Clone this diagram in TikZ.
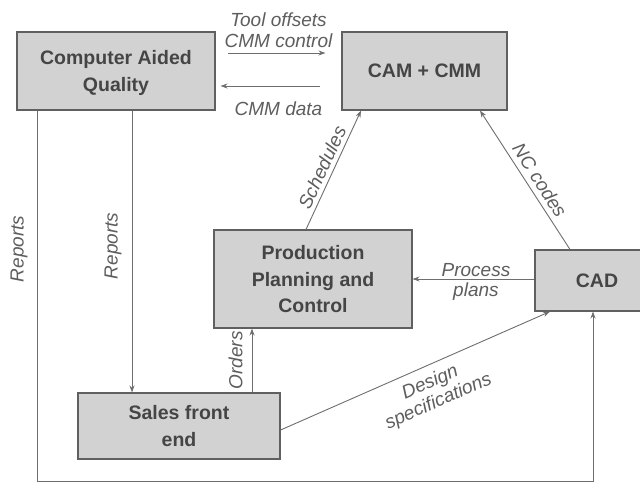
\documentclass[tikz,border=0pt]{standalone}
\usepackage{fontspec}
\setmainfont{Liberation Sans}
\usetikzlibrary{arrows.meta}
\definecolor{boxfill}{HTML}{D2D2D2}
\definecolor{boxline}{HTML}{606060}
\definecolor{boxtext}{HTML}{454545}
\definecolor{labtext}{HTML}{5E5E5E}
\definecolor{wire}{HTML}{6E6E6E}
\tikzset{
  blk/.style={draw=boxline, line width=1.1pt, fill=boxfill, text=boxtext,
    font=\fontsize{19.5}{26.5}\selectfont\bfseries, align=center, inner sep=0pt, text depth=0pt},
  lab/.style={text=labtext, font=\fontsize{19}{20.5}\selectfont\itshape, align=center, inner sep=1pt},
  wireline/.style={draw=wire, line width=0.9pt},
  arr/.style={wireline, -{Stealth[length=7pt,width=5pt]}}
}
\begin{document}
\begin{tikzpicture}[x=1pt,y=-1pt]
\clip (0,0) rectangle (640,483);
\fill[white] (0,0) rectangle (640,483);

\node[blk, minimum width=198pt, minimum height=78pt] (caq) at (116,71) {Computer Aided\\Quality};
\node[blk, minimum width=165pt, minimum height=78pt] (cam) at (424.5,71) {CAM + CMM};
\node[blk, minimum width=198pt, minimum height=98pt] (ppc) at (313,279) {Production\\Planning and\\Control};
\node[blk, minimum width=202pt, minimum height=66pt] (sales) at (179,426) {Sales front\\end};
\node[blk, minimum width=124pt, minimum height=61pt] (cad) at (597,280.5) {CAD};

% CAQ <-> CAM
\draw[arr, shorten <=12pt, shorten >=16pt] (caq.east |- 0,53) -- node[lab, above=4pt] {Tool offsets\\CMM control} (cam.west |- 0,53);
\draw[arr, shorten <=21pt, shorten >=5pt] (cam.west |- 0,86) -- node[lab, below=14pt] {CMM data} (caq.east |- 0,86);

% Reports (middle)
\draw[arr] (caq.south -| 132,0) -- node[lab, rotate=90, above=9pt, pos=0.48] {Reports} (sales.north -| 132,0);

% Reports (outer loop) to CAD
\coordinate (bl) at (37,481.5);
\coordinate (br) at (593,481.5);
\draw[arr] (caq.south -| 37,0) -- node[lab, rotate=90, above=8pt, pos=0.373] {Reports} (bl) -- (br) -- (cad.south -| 593,0);

% Orders
\draw[arr] (sales.north -| 252,0) -- node[lab, rotate=90, above=8pt] {Orders} (ppc.south -| 252,0);

% Schedules
\draw[arr] (ppc.north -| 306,0) -- node[lab, sloped, above=3pt, pos=0.48] {Schedules} (cam.south -| 361,0);

% NC codes
\draw[arr] (cad.north -| 570,0) -- node[lab, sloped, above=4pt, pos=0.45] {NC codes} (cam.south -| 480,0);

% Process plans
\draw[arr] (cad.west |- 0,279) -- node[lab, above=1pt, pos=0.48] {Process} node[lab, below=2pt, pos=0.48] {plans} (ppc.east |- 0,279);

% Design specifications
\draw[arr] (sales.east |- 0,430) -- node[lab, sloped, below=7pt, pos=0.53] {Design\\specifications} (cad.south -| 550,0);
\end{tikzpicture}
\end{document}
